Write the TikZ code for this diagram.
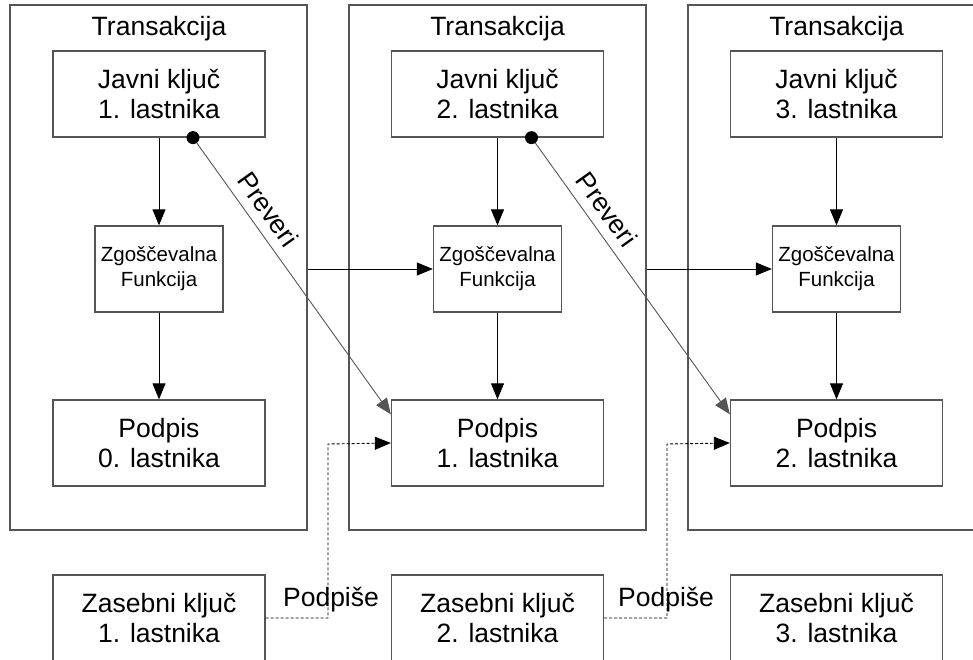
\documentclass[tikz,border=0pt]{standalone}
\usepackage{fontspec}
\setmainfont{Liberation Sans}
\usetikzlibrary{arrows.meta}
\definecolor{linegray}{HTML}{555555}
\tikzset{
  box/.style={draw=linegray,line width=1.3pt,minimum width=212pt,minimum height=86pt,
    inner sep=0pt,align=center,font=\fontsize{26.5}{30}\selectfont},
  hashbox/.style={box,minimum width=128pt,font=\fontsize{20.5}{25}\selectfont},
  transbox/.style={draw=linegray,line width=1.3pt,minimum width=297pt,minimum height=525pt,inner sep=0pt},
  tip/.style={-{Triangle[length=16pt,width=13pt]}},
  besedilo/.style={font=\fontsize{26.5}{30}\selectfont},
}
\begin{document}
\begin{tikzpicture}[x=1pt,y=-1pt,line width=0.9pt]
    \useasboundingbox (0,0) rectangle (973,660);
    \clip (0,0) rectangle (973,660);
    % transakcije
    \node[transbox] (trans1) at (158.5,267.5) {};
    \node[transbox] (trans2) at (497.5,267.5) {};
    \node[transbox] (trans3) at (836.5,267.5) {};
    \node[besedilo] (naslov1) at (159,29) {Transakcija};
    \node[besedilo] (naslov2) at (497.5,29) {Transakcija};
    \node[besedilo] (naslov3) at (836.5,29) {Transakcija};
    % javni kljuci
    \node[box] (javni1) at (159,94) {Javni ključ\\1. lastnika};
    \node[box] (javni2) at (497.5,94) {Javni ključ\\2. lastnika};
    \node[box] (javni3) at (836.5,94) {Javni ključ\\3. lastnika};
    % zgoscevalne funkcije
    \node[hashbox] (hash1) at (159,269) {Zgoščevalna\\Funkcija};
    \node[hashbox] (hash2) at (497.5,269) {Zgoščevalna\\Funkcija};
    \node[hashbox] (hash3) at (836.5,269) {Zgoščevalna\\Funkcija};
    % podpisi
    \node[box] (podpis1) at (159,443) {Podpis\\0. lastnika};
    \node[box] (podpis2) at (497.5,443) {Podpis\\1. lastnika};
    \node[box] (podpis3) at (836.5,443) {Podpis\\2. lastnika};
    % zasebni kljuci
    \node[box] (zasebni1) at (159,618) {Zasebni ključ\\1. lastnika};
    \node[box] (zasebni2) at (497.5,618) {Zasebni ključ\\2. lastnika};
    \node[box] (zasebni3) at (836.5,618) {Zasebni ključ\\3. lastnika};
    % puscice znotraj transakcij
    \draw[tip] (javni1) -- (hash1);
    \draw[tip] (hash1) -- (podpis1);
    \draw[tip] (javni2) -- (hash2);
    \draw[tip] (hash2) -- (podpis2);
    \draw[tip] (javni3) -- (hash3);
    \draw[tip] (hash3) -- (podpis3);
    % med transakcijami
    \draw[tip] (trans1.east |- hash2.west) -- (hash2.west);
    \draw[tip] (trans2.east |- hash3.west) -- (hash3.west);
    % preveri
    \coordinate (pika1) at ([xshift=34pt]javni1.south);
    \coordinate (pika2) at ([xshift=34pt]javni2.south);
    \draw[tip,draw=linegray] (pika1) -- ([yshift=-15pt]podpis2.north west)
      node[pos=0.3,sloped,above=6pt,besedilo] {Preveri};
    \draw[tip,draw=linegray] (pika2) -- ([yshift=-15pt]podpis3.north west)
      node[pos=0.3,sloped,above=6pt,besedilo] {Preveri};
    \fill (pika1) circle (6.5pt);
    \fill (pika2) circle (6.5pt);
    % podpise
    \draw[tip,densely dashed,line width=0.9pt] (zasebni1.east) -| (328,444) -- (podpis2.west);
    \draw[tip,densely dashed,line width=0.9pt] (zasebni2.east) -| (667,444) -- (podpis3.west);
    \node[besedilo] (podpise1) at (331,600) {Podpiše};
    \node[besedilo] (podpise2) at (666,600) {Podpiše};
\end{tikzpicture}
\end{document}
